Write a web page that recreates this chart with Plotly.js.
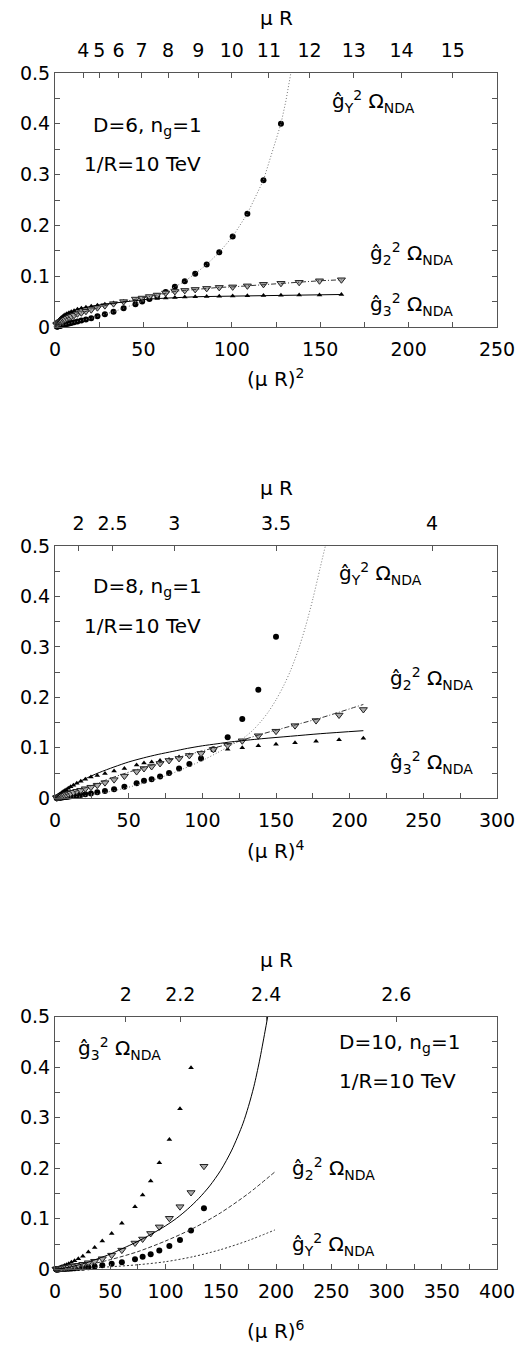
<!DOCTYPE html>
<html><head><meta charset="utf-8">
<script src="https://cdn.plot.ly/plotly-3.0.1.min.js"></script>
<style>html,body{margin:0;padding:0;background:#fff}</style>
</head><body><div id="chart" style="width:517px;height:1346px"></div>
<script>
// ---------------- Panel 1 : D=6, x=(muR)^2 ----------------
const p1_x   = [1.0,1.2,1.4,1.6,1.9,2.2,2.6,3.0,3.5,4.2,4.9,5.7,6.7,7.9,9.2,10.8,12.7,14.9,17.5,20.5,24.0,28.2,33.1,38.8,45.5,49.3,53.4,57.8,62.6,67.8,73.4,79.3,85.8,92.9,100.5,108.8,117.9,127.8,138.1,149.6,162.0];
const p1_gY  = [0.0009,0.001,0.0012,0.0014,0.0016,0.0019,0.0022,0.0026,0.003,0.0037,0.0043,0.005,0.006,0.007,0.008,0.0095,0.011,0.013,0.015,0.017,0.021,0.025,0.030,0.037,0.045,0.050,0.055,0.061,0.069,0.079,0.090,0.105,0.123,0.147,0.178,0.223,0.289,0.400];
const p1_g3  = [0.008,0.009,0.010,0.011,0.012,0.013,0.015,0.016,0.018,0.020,0.022,0.024,0.026,0.028,0.030,0.032,0.035,0.037,0.039,0.041,0.043,0.045,0.047,0.050,0.053,0.054,0.055,0.056,0.057,0.058,0.059,0.0595,0.060,0.0605,0.061,0.0615,0.062,0.0625,0.063,0.063,0.064];
const p1_g2  = [0.0045,0.005,0.0055,0.006,0.007,0.008,0.009,0.010,0.011,0.012,0.014,0.015,0.017,0.019,0.021,0.023,0.026,0.028,0.031,0.034,0.038,0.042,0.046,0.050,0.055,0.057,0.060,0.063,0.067,0.070,0.072,0.074,0.076,0.078,0.079,0.081,0.084,0.086,0.088,0.091,0.093];
const p1_gY_ext_x = [130.6,133.4];
const p1_gY_ext   = [0.445,0.5];
const p1_muR = [4,5,6,7,8,9,10,11,12,13,14,15];

// ---------------- Panel 2 : D=8, x=(muR)^4 ----------------
const p2_x  = [1.1,1.3,1.5,1.7,2.0,2.4,2.8,3.3,3.9,4.6,5.5,6.4,7.6,9.0,10.6,12.5,14.8,17.5,20.6,24.4,28.7,33.9,40.1,47.1,55.4,60.4,65.6,71.3,77.4,84.2,91.2,99.1,107.5,117.2,127.1,138.0,150.0,162.9,177.2,192.8,209.3];
const p2_g3 = [0.003,0.0035,0.004,0.0045,0.005,0.006,0.007,0.008,0.009,0.011,0.013,0.015,0.017,0.020,0.023,0.026,0.030,0.034,0.038,0.042,0.045,0.049,0.054,0.059,0.066,0.070,0.072,0.075,0.077,0.082,0.086,0.090,0.095,0.097,0.100,0.104,0.107,0.110,0.113,0.116,0.119];
const p2_g2 = [0.001,0.0012,0.0014,0.0016,0.0019,0.0023,0.0027,0.0032,0.0038,0.0045,0.0053,0.0062,0.0073,0.0087,0.010,0.012,0.014,0.016,0.019,0.022,0.026,0.031,0.037,0.044,0.053,0.059,0.063,0.069,0.075,0.079,0.085,0.089,0.097,0.105,0.114,0.124,0.133,0.144,0.154,0.165,0.176];
const p2_gY = [0.0004,0.0005,0.0006,0.0007,0.0008,0.0009,0.0011,0.0013,0.0015,0.0018,0.0021,0.0024,0.0028,0.0033,0.0039,0.0046,0.0055,0.0066,0.008,0.0096,0.012,0.0145,0.018,0.023,0.030,0.035,0.038,0.043,0.050,0.059,0.068,0.079,0.097,0.121,0.157,0.215,0.320];
const p2_g3_line_x = [0,5,10,20,30,40,50,60,70,80,90,100,110,120,140,160,180,209.3];
const p2_g3_line   = [0,0.012,0.022,0.038,0.051,0.062,0.072,0.080,0.087,0.093,0.099,0.104,0.108,0.112,0.118,0.123,0.128,0.134];
const p2_g2_line_x = [0,10,20,40,60,80,100,120,140,160,180,209.3];
const p2_g2_line   = [0,0.010,0.020,0.042,0.061,0.078,0.094,0.109,0.127,0.143,0.159,0.186];
const p2_gY_line_x = [0,20,40,60,80,100,110,120,125,130,135,140,145,150,155,160,165,170,175,180,183.5];
const p2_gY_line   = [0,0.005,0.015,0.030,0.050,0.075,0.090,0.106,0.114,0.124,0.137,0.153,0.172,0.195,0.222,0.254,0.293,0.340,0.395,0.457,0.5];
const p2_muR = [2,2.5,3,3.5,4];

// ---------------- Panel 3 : D=10, x=(muR)^6 ----------------
const p3_x  = [1.0,1.2,1.5,1.8,2.1,2.5,3.0,3.6,4.3,5.1,6.1,7.3,8.7,10.4,12.4,14.8,17.7,21.1,25.2,30.2,35.9,42.8,51.3,60.5,72.4,79.3,86.6,94.4,103.5,113.1,123.1,134.8];
const p3_g3 = [0.0006,0.0008,0.001,0.0012,0.0015,0.0018,0.0022,0.0027,0.0033,0.004,0.005,0.006,0.0075,0.009,0.011,0.014,0.017,0.021,0.026,0.034,0.043,0.056,0.071,0.091,0.124,0.147,0.175,0.211,0.257,0.318,0.399];
const p3_g2 = [0.0003,0.0003,0.0004,0.0005,0.0006,0.0007,0.0009,0.0011,0.0013,0.0016,0.002,0.0024,0.0029,0.0035,0.0043,0.0053,0.0065,0.008,0.010,0.013,0.016,0.021,0.028,0.038,0.052,0.060,0.071,0.084,0.101,0.124,0.152,0.204];
const p3_gY = [0.0001,0.0001,0.0001,0.0002,0.0002,0.0002,0.0003,0.0003,0.0004,0.0005,0.0006,0.0007,0.0008,0.001,0.0012,0.0015,0.0019,0.0024,0.003,0.004,0.0055,0.008,0.011,0.014,0.020,0.025,0.030,0.037,0.046,0.058,0.077,0.121];
const p3_g3_line_x = [0,10,20,30,40,50,60,70,80,90,100,110,120,130,140,150,160,170,175,180,185,190,192.5];
const p3_g3_line   = [0,0.003,0.008,0.014,0.022,0.030,0.040,0.050,0.061,0.073,0.086,0.101,0.119,0.140,0.165,0.196,0.236,0.288,0.322,0.362,0.412,0.470,0.5];
const p3_g2_line_x = [0,25,50,75,100,125,150,175,199.1];
const p3_g2_line   = [0,0.007,0.019,0.035,0.056,0.081,0.112,0.150,0.193];
const p3_gY_line_x = [0,25,50,75,100,125,150,175,199.1];
const p3_gY_line   = [0,0.002,0.005,0.009,0.015,0.025,0.039,0.057,0.078];
const p3_muR = [2,2.2,2.4,2.6];

// ---------------- styling ----------------
const FAM = 'DejaVu Sans, Liberation Sans, Arial, sans-serif';
const TICKF = {family:FAM, size:19, color:'#000'};
const LABF = {family:FAM, size:20, color:'#000'};
const AX = '#555';
const H = 1346;
const tops = [73, 546, 1016.7], bots = [327, 798.3, 1269.3];

function yDom(i){ return [1 - bots[i]/H, 1 - tops[i]/H]; }

const circ = {symbol:'circle', size:6, color:'#000'};
const triU = {symbol:'triangle-up', size:5, color:'#000'};
const triD = {symbol:'triangle-down', size:7, color:'#aaa', line:{color:'#222', width:1}};

function mk(x, y, xa, ya, marker){
  return {type:'scatter', mode:'markers', x:x.slice(0, y.length), y:y, xaxis:xa, yaxis:ya,
          marker:marker, cliponaxis:false, showlegend:false, hoverinfo:'skip'};
}
function ln(x, y, xa, ya, dash, color, width, shape){
  return {type:'scatter', mode:'lines', x:x, y:y, xaxis:xa, yaxis:ya,
          line:{dash:dash, color:color, width:width||1, shape:shape||'linear', smoothing:0.8},
          showlegend:false, hoverinfo:'skip'};
}

const traces = [
  // panel 1 lines (through the markers)
  ln(p1_x.slice(0,p1_gY.length).concat(p1_gY_ext_x), p1_gY.concat(p1_gY_ext), 'x4','y','1px,2px','#777',1),
  ln(p1_x, p1_g2, 'x4','y','5px,2px,1px,2px','#333',1),
  ln(p1_x, p1_g3, 'x4','y','solid','#000',1),
  mk(p1_x, p1_gY, 'x','y', circ),
  mk(p1_x, p1_g3, 'x','y', triU),
  mk(p1_x, p1_g2, 'x','y', triD),
  // panel 2
  ln(p2_gY_line_x, p2_gY_line, 'x5','y2','1px,2px','#777',1,'spline'),
  ln(p2_g2_line_x, p2_g2_line, 'x5','y2','5px,2px,1px,2px','#333',1,'spline'),
  ln(p2_g3_line_x, p2_g3_line, 'x5','y2','solid','#000',1,'spline'),
  mk(p2_x, p2_gY, 'x2','y2', circ),
  mk(p2_x, p2_g3, 'x2','y2', triU),
  mk(p2_x, p2_g2, 'x2','y2', triD),
  // panel 3
  ln(p3_gY_line_x, p3_gY_line, 'x6','y3','2px,2px','#333',1,'spline'),
  ln(p3_g2_line_x, p3_g2_line, 'x6','y3','4px,2px','#333',1,'spline'),
  ln(p3_g3_line_x, p3_g3_line, 'x6','y3','solid','#000',1,'spline'),
  mk(p3_x, p3_gY, 'x3','y3', circ),
  mk(p3_x, p3_g3, 'x3','y3', triU),
  mk(p3_x, p3_g2, 'x3','y3', triD)
];

function bottomAxis(range, anchor){
  return {range:range, domain:[0,1], anchor:anchor, tick0:0, dtick:50,
    ticks:'inside', ticklen:5, tickwidth:1, tickcolor:AX, ticklabelstandoff:5,
    minor:{tick0:0, dtick:25, ticks:'inside', ticklen:5, tickwidth:1, tickcolor:AX},
    showline:true, linecolor:AX, linewidth:1, mirror:true,
    showgrid:false, zeroline:false, tickfont:TICKF, fixedrange:true};
}
function topAxis(range, over, anchor, labels, power){
  return {range:range, domain:[0,1], overlaying:over, anchor:anchor, side:'top',
    tickmode:'array', tickvals:labels.map(v => Math.pow(v, power)), ticktext:labels.map(String),
    ticks:'inside', ticklen:5, tickwidth:1, tickcolor:AX, ticklabelstandoff:11,
    showline:false, showgrid:false, zeroline:false, tickfont:TICKF, fixedrange:true};
}
function leftAxis(i){
  return {domain:yDom(i), range:[0,0.5], tick0:0, dtick:0.1,
    ticks:'inside', ticklen:5, tickwidth:1, tickcolor:AX,
    minor:{tick0:0, dtick:0.05, ticks:'inside', ticklen:5, tickwidth:1, tickcolor:AX},
    showline:true, linecolor:AX, linewidth:1, mirror:'ticks',
    showgrid:false, zeroline:false, tickfont:TICKF, fixedrange:true};
}

function lab(text, x, y, xa, ya){
  return {text:text, x:x, y:y, xref:xa, yref:ya, xanchor:'left', yanchor:'middle',
          showarrow:false, font:LABF};
}
function ptitle(text, py){
  return {text:text, x:0.5, y:1 - py/H, xref:'paper', yref:'paper', xanchor:'center', yanchor:'middle',
          showarrow:false, font:LABF};
}
const GY = 'ĝ<sub>Y</sub><sup>2</sup> Ω<sub>NDA</sub>';
const G2 = 'ĝ<sub>2</sub><sup>2</sup> Ω<sub>NDA</sub>';
const G3 = 'ĝ<sub>3</sub><sup>2</sup> Ω<sub>NDA</sub>';

const annotations = [
  ptitle('μ R', 18), ptitle('(μ R)<sup>2</sup>', 378),
  ptitle('μ R', 488), ptitle('(μ R)<sup>4</sup>', 850),
  ptitle('μ R', 960), ptitle('(μ R)<sup>6</sup>', 1330),
  lab(GY, 155.6, 0.444, 'x','y'),
  lab('D=6, n<sub>g</sub>=1', 20.4, 0.396, 'x','y'),
  lab('1/R=10 TeV', 15.3, 0.321, 'x','y'),
  lab(G2, 177.1, 0.144, 'x','y'),
  lab(G3, 177.1, 0.045, 'x','y'),
  lab(GY, 191.4, 0.446, 'x2','y2'),
  lab('D=8, n<sub>g</sub>=1', 24.4, 0.419, 'x2','y2'),
  lab('1/R=10 TeV', 18.3, 0.341, 'x2','y2'),
  lab(G2, 226, 0.238, 'x2','y2'),
  lab(G3, 226, 0.070, 'x2','y2'),
  lab(G3, 19, 0.438, 'x3','y3'),
  lab('D=10, n<sub>g</sub>=1', 255.2, 0.448, 'x3','y3'),
  lab('1/R=10 TeV', 255.2, 0.373, 'x3','y3'),
  lab(G2, 212.7, 0.199, 'x3','y3'),
  lab(GY, 212.7, 0.050, 'x3','y3')
];

const layout = {
  width:517, height:1346,
  margin:{l:55, r:20, t:0, b:0},
  paper_bgcolor:'#fff', plot_bgcolor:'#fff',
  font:{family:FAM, size:19, color:'#000'},
  showlegend:false,
  xaxis: bottomAxis([0,250],'y'),
  xaxis2: bottomAxis([0,300],'y2'),
  xaxis3: bottomAxis([0,400],'y3'),
  xaxis4: topAxis([0,250],'x','y',p1_muR,2),
  xaxis5: topAxis([0,300],'x2','y2',p2_muR,4),
  xaxis6: topAxis([0,400],'x3','y3',p3_muR,6),
  yaxis: leftAxis(0),
  yaxis2: leftAxis(1),
  yaxis3: leftAxis(2),
  annotations: annotations
};

Plotly.newPlot('chart', traces, layout, {staticPlot:true, displayModeBar:false});
</script>
</body></html>
